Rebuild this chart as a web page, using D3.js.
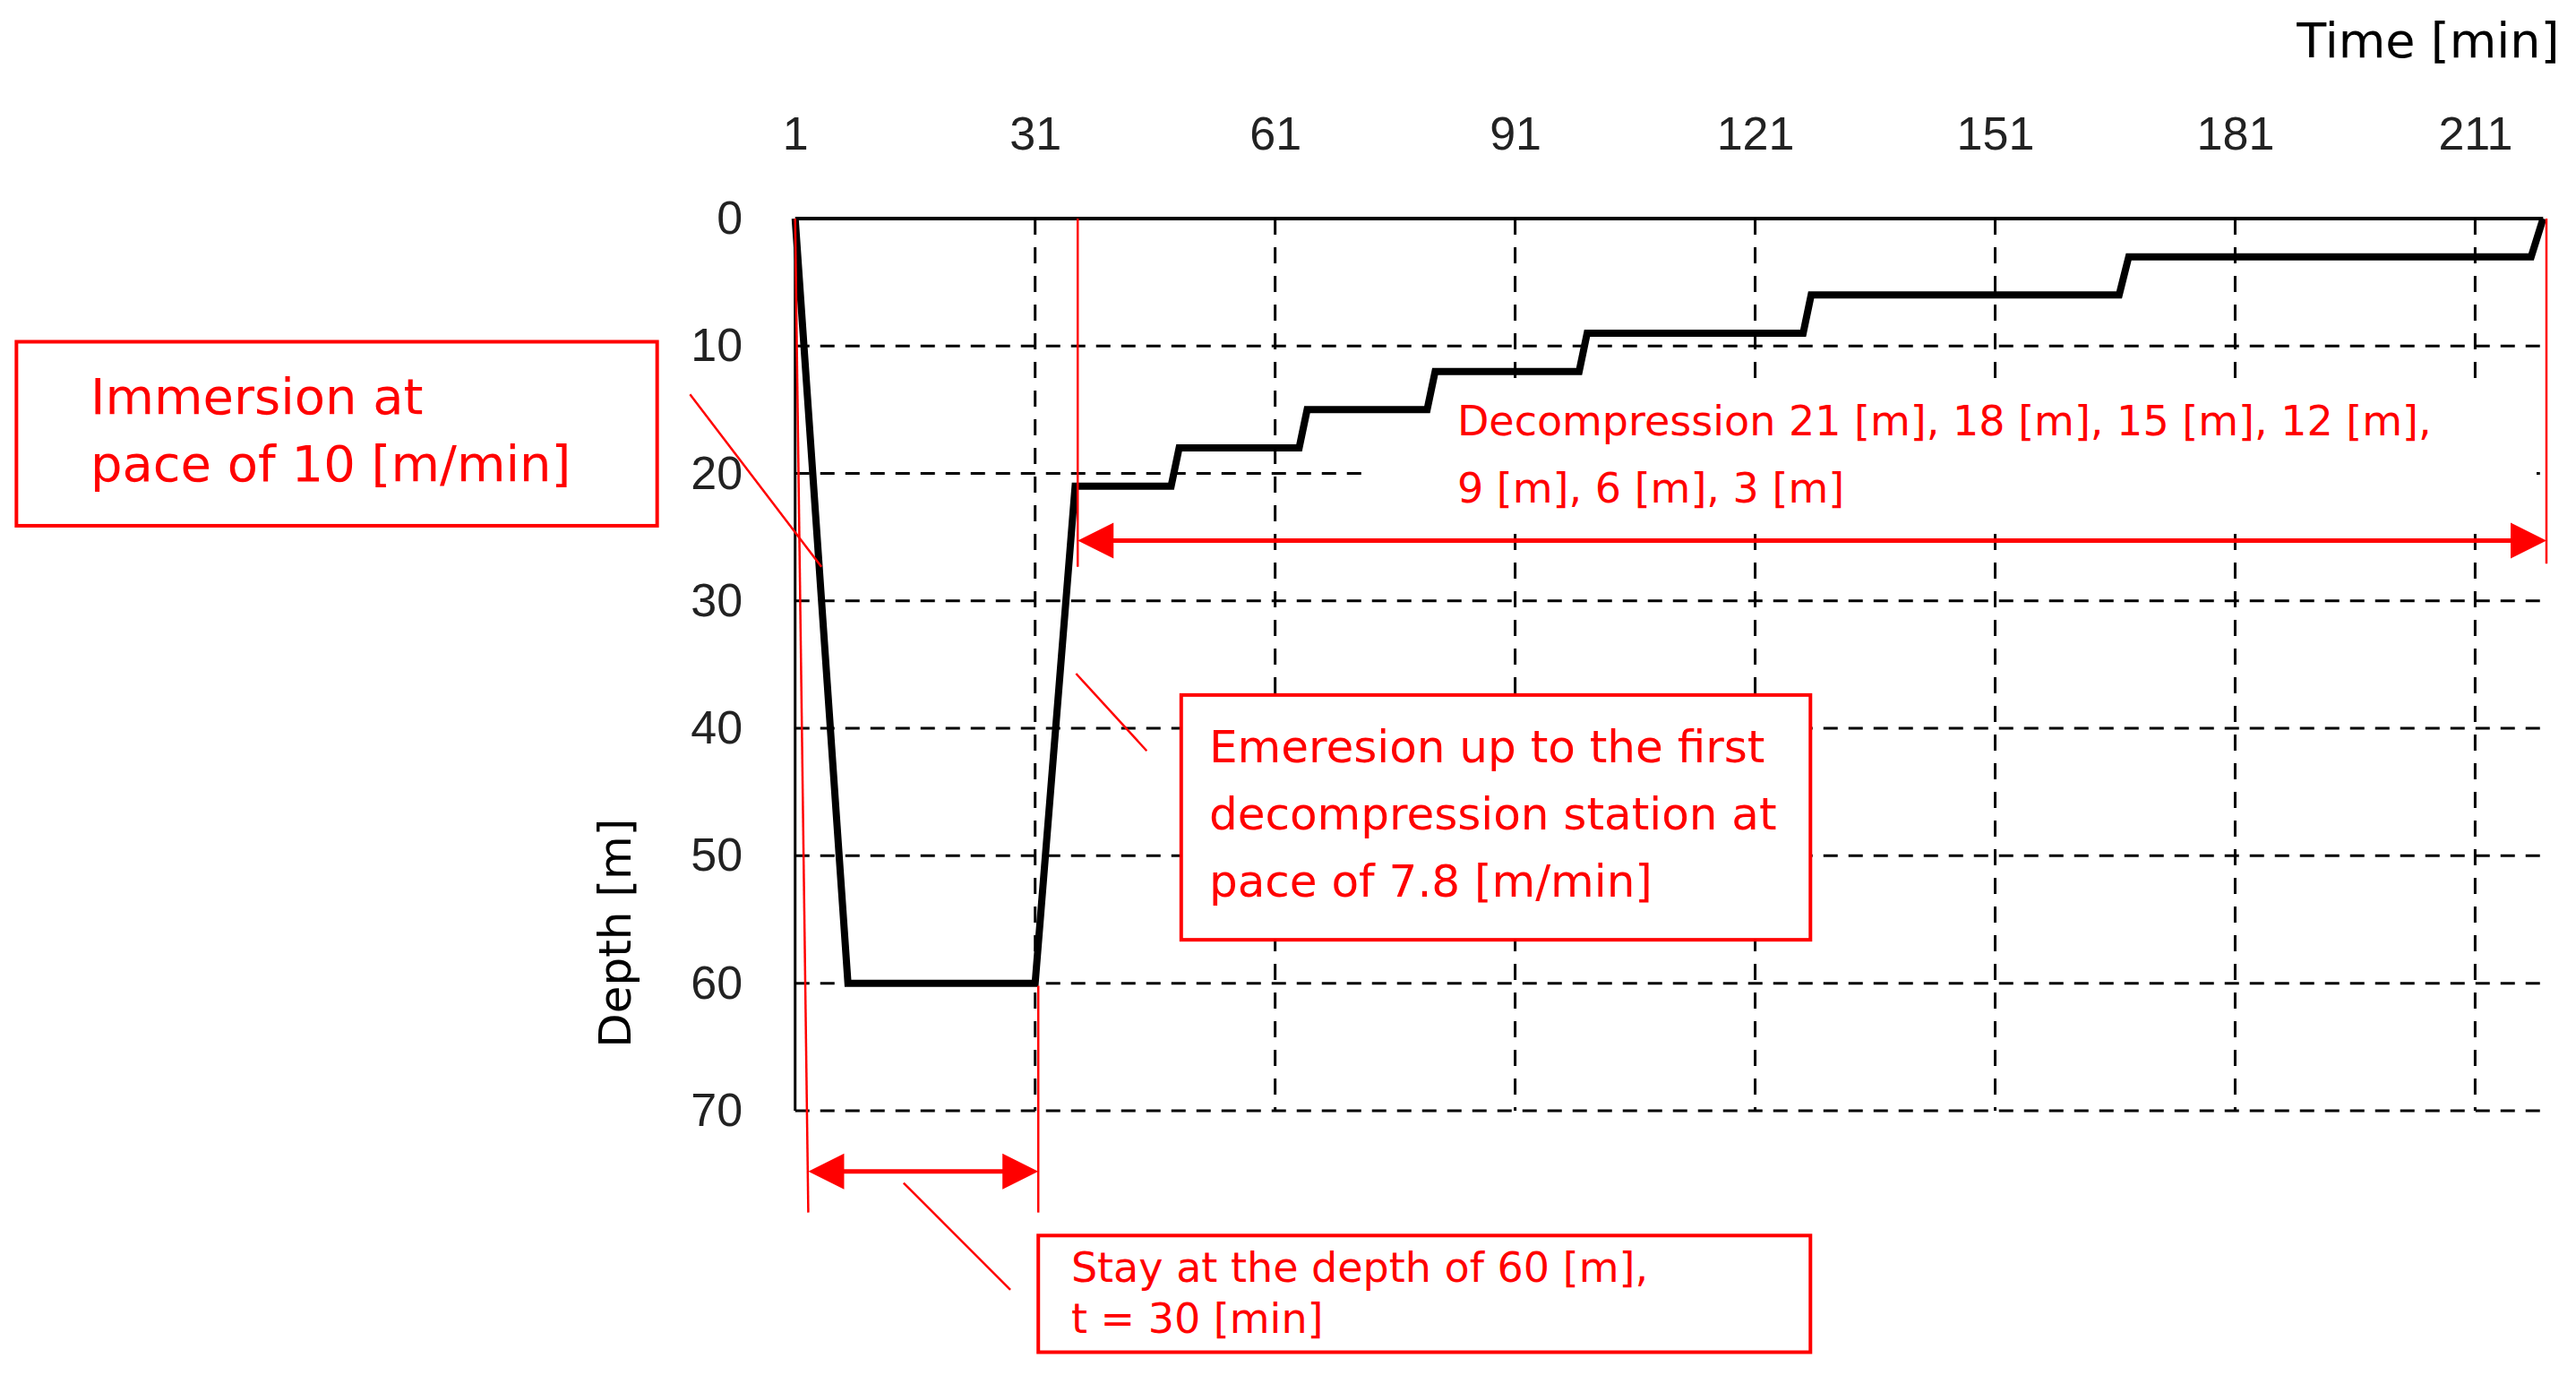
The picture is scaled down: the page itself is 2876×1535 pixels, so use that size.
<!DOCTYPE html>
<html><head><meta charset="utf-8">
<script src="https://cdn.jsdelivr.net/npm/d3@7"></script>
<style>body{margin:0;background:#fff}svg{display:block}</style>
</head><body>
<script>
const timeTicks = [1,31,61,91,121,151,181,211];
const depthTicks = [0,10,20,30,40,50,60,70];
const profileTime  = [1,7.6,31,36,48,49,64,65,80,81,99,100,127,128,166.5,167.7,218,219.5];
const profileDepth = [0,60,60,21,21,18,18,15,15,12,12,9,9,6,6,3,3,0];

const W=2876,H=1535,S=2876/1568;
const P=v=>v*S;
const svg=d3.select("body").append("svg").attr("width",W).attr("height",H);
const x=d3.scaleLinear().domain([1,219.5]).range([P(484),P(1548)]);
const y=d3.scaleLinear().domain([0,70]).range([P(133),P(676)]);
const tickFont="'Liberation Sans Narrow','Liberation Sans',sans-serif";
const red="#ff0000";

const g=svg.append("g");
g.selectAll(".vg").data(timeTicks.slice(1)).join("line")
 .attr("x1",d=>x(d)).attr("x2",d=>x(d)).attr("y1",y(0)).attr("y2",y(70))
 .attr("stroke","#000").attr("stroke-width",3).attr("stroke-dasharray","18,14");
g.selectAll(".hg").data(depthTicks.slice(1)).join("line")
 .attr("x1",x(1)).attr("x2",x(219.5)).attr("y1",d=>y(d)).attr("y2",d=>y(d))
 .attr("stroke","#000").attr("stroke-width",3).attr("stroke-dasharray","16,12");
svg.append("line").attr("x1",x(1)).attr("x2",x(219.5)).attr("y1",y(0)).attr("y2",y(0)).attr("stroke","#000").attr("stroke-width",4);
svg.append("line").attr("x1",x(1)).attr("x2",x(1)).attr("y1",y(0)).attr("y2",y(70)).attr("stroke","#000").attr("stroke-width",3);

const xa=svg.append("g").attr("transform",`translate(0,${P(78)+24})`)
 .call(d3.axisTop(x).tickValues(timeTicks).tickSize(0).tickPadding(0));
xa.select(".domain").remove();
xa.selectAll("text").attr("font-family",tickFont).attr("font-size",52).attr("fill","#222");
const ya=svg.append("g").attr("transform",`translate(${P(452)},0)`)
 .call(d3.axisLeft(y).tickValues(depthTicks).tickSize(0).tickPadding(0));
ya.select(".domain").remove();
ya.selectAll("text").attr("font-family",tickFont).attr("font-size",52).attr("fill","#222");

svg.append("text").attr("x",P(1558)).attr("y",P(35)).attr("text-anchor","end")
 .attr("font-family","DejaVu Sans").attr("font-size",54).text("Time [min]");
svg.append("text").attr("transform",`translate(${P(384)},${P(568)}) rotate(-90)`).attr("text-anchor","middle")
 .attr("font-family","DejaVu Sans").attr("font-size",50).text("Depth [m]");

svg.append("rect").attr("x",P(830)).attr("y",P(236)).attr("width",P(714)).attr("height",P(82)).attr("fill","#fff");

const pts=profileTime.map((t,i)=>[t,profileDepth[i]]);
svg.append("path").datum(pts).attr("d",d3.line().x(d=>x(d[0])).y(d=>y(d[1])))
 .attr("fill","none").attr("stroke","#000").attr("stroke-width",8).attr("stroke-linejoin","miter");

const A=svg.append("g").attr("stroke",red).attr("fill","none");
const ln=(x1,y1,x2,y2,w=2.5)=>A.append("line").attr("x1",P(x1)).attr("y1",P(y1)).attr("x2",P(x2)).attr("y2",P(y2)).attr("stroke-width",w);
ln(484,133,492,738); ln(632,600,632,738);
ln(656,133,656,345); ln(1550,133,1550,343);
ln(420,240,500,345); ln(550,720,615,785); ln(655,410,698,457);
ln(500,713,624,713,5); ln(664,329,1542,329,5);
const arrow=(xt,yy,dir)=>svg.append("path").attr("fill",red)
 .attr("d",`M${P(xt)},${P(yy)} L${P(xt)+dir*40},${P(yy)-20} L${P(xt)+dir*40},${P(yy)+20}Z`);
arrow(492,713,1); arrow(632,713,-1); arrow(656,329,1); arrow(1550,329,-1);
const box=(x0,y0,x1,y1)=>A.append("rect").attr("x",P(x0)).attr("y",P(y0)).attr("width",P(x1-x0)).attr("height",P(y1-y0)).attr("fill","#fff").attr("stroke-width",4);
box(10,208,400,320); box(719,423,1102,572); box(632,752,1102,823);
const txt=(s,x0,yb,fs)=>svg.append("text").attr("x",P(x0)).attr("y",P(yb)).attr("fill",red)
 .attr("font-family","DejaVu Sans").attr("font-size",fs).text(s);
txt("Immersion at",55,252,56); txt("pace of 10 [m/min]",55,293,56);
txt("Emeresion up to the first",736,464,50); txt("decompression station at",736,505,50); txt("pace of 7.8 [m/min]",736,546,50);
txt("Stay at the depth of 60 [m],",652,780,46); txt("t = 30 [min]",652,811,46);
txt("Decompression 21 [m], 18 [m], 15 [m], 12 [m],",887,265,46); txt("9 [m], 6 [m], 3 [m]",887,306,46);
</script></body></html>
